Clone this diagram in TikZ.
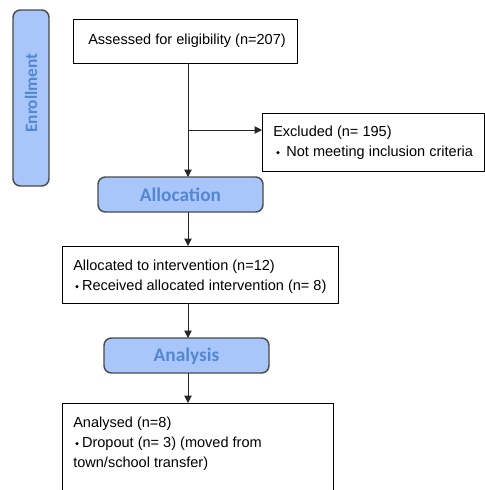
\documentclass[tikz,border=0pt]{standalone}
\usepackage{fontspec}
\setmainfont{Liberation Sans}
\newfontfamily\headfont{Carlito}
\usetikzlibrary{arrows.meta}
\definecolor{phasefill}{HTML}{A8C6FA}
\definecolor{phasetext}{HTML}{5388CF}
\definecolor{phaseline}{HTML}{4A4A4A}
\newcommand{\smallbul}{\raisebox{1.2pt}{\tikz\fill (0,0) -- (1.3pt,1.3pt) -- (2.6pt,0) -- (1.3pt,-1.3pt) -- cycle;}}
\tikzset{
  px/.style={x=0.75pt,y=-0.75pt},
  phase/.style={draw=phaseline,line width=1.1pt,fill=phasefill,rounded corners=5.5pt},
  phasetxt/.style={text=phasetext,font=\headfont\bfseries\fontsize{14.5pt}{16pt}\selectfont},
  infobox/.style={draw=black,line width=0.75pt,fill=white},
  infotxt/.style={font=\fontsize{10.9pt}{12pt}\selectfont,anchor=base west,inner sep=0pt},
  flow/.style={draw=black!85,line width=0.75pt,-{Triangle[length=5.5pt,width=5.5pt]}}
}
\begin{document}
\begin{tikzpicture}[px]
\useasboundingbox (0,0) rectangle (485,490);
\begin{scope}
\clip (0,0) rectangle (485,490);
% Enrollment
\draw[phase] (13,10) rectangle (49,186);
\node[phasetxt,rotate=90,font=\headfont\bfseries\fontsize{13pt}{15pt}\selectfont] (enroll) at (31,93) {Enrollment};
% Assessed
\draw[infobox] (73,19) rectangle (297,63);
\coordinate (assB) at (188,63);
\node[infotxt] (ass) at (88,44) {Assessed for eligibility (n=207)};
% Excluded
\draw[infobox] (262,113) rectangle (484,171);
\coordinate (excL) at (262,130);
\node[infotxt] (exc1) at (273,136) {Excluded (n= 195)};
\node[infotxt] (exc2) at (276,156) {\smallbul\hspace{5pt}Not meeting inclusion criteria};
% Allocation
\draw[phase] (98,177) rectangle (263,212);
\node[phasetxt] (alloc) at (180.5,195) {Allocation};
\coordinate (allocT) at (188,177);
\coordinate (allocB) at (188,212);
% Allocated
\draw[infobox] (62,246) rectangle (338,303);
\coordinate (alldT) at (188,246);
\coordinate (alldB) at (188,303);
\node[infotxt] (alld1) at (73,270) {Allocated to intervention (n=12)};
\node[infotxt] (alld2) at (75,290) {\smallbul\hspace{2.5pt}Received allocated intervention (n= 8)};
% Analysis
\draw[phase] (104,338) rectangle (269,373);
\node[phasetxt] (anal) at (186.5,356) {Analysis};
\coordinate (analT) at (188,338);
\coordinate (analB) at (188,373);
% Analysed
\draw[infobox] (62,403) rectangle (333,500);
\coordinate (andT) at (188,403);
\node[infotxt] (and1) at (73,427) {Analysed (n=8)};
\node[infotxt] (and2) at (75,447) {\smallbul\hspace{2.5pt}Dropout (n= 3) (moved from};
\node[infotxt] (and3) at (73,467) {town/school transfer)};
% connectors
\coordinate (branch) at (188,130);
\draw[flow] (assB) -- (allocT);
\draw[flow] (branch) -- (excL);
\draw[flow] (allocB) -- (alldT);
\draw[flow] (alldB) -- (analT);
\draw[flow] (analB) -- (andT);
\end{scope}
\end{tikzpicture}
\end{document}
